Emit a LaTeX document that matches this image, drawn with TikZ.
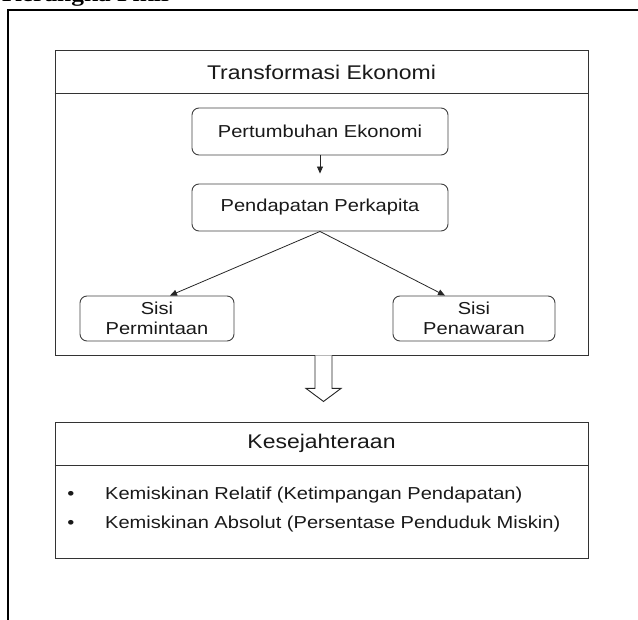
\documentclass[tikz,border=0pt]{standalone}
\usepackage{fontspec}
\setmainfont{Liberation Sans}[FakeStretch=1.16]
\newfontfamily\topfont{Liberation Serif}[FakeStretch=1.16]
\usetikzlibrary{arrows.meta,calc}
\begin{document}
\begin{tikzpicture}[x=1pt,y=-1pt,
  frameline/.style={line width=1.5pt,black},
  bigbox/.style={draw=black!80,line width=0.9pt,minimum width=533pt,inner sep=0pt},
  rbox/.style={draw=black!75,line width=0.9pt,rounded corners=7pt,align=center,inner sep=0pt,
    font=\fontsize{17.3}{19.5}\selectfont,text=black!90},
  titletext/.style={font=\fontsize{19.8}{22}\selectfont,text=black!90,inner sep=0pt},
  bodytext/.style={font=\fontsize{17.3}{19.5}\selectfont,text=black!90,inner sep=0pt},
  conn/.style={draw=black!85,line width=0.8pt,-{Triangle[length=7pt,width=6pt]}}
]
\useasboundingbox (0,0) rectangle (638,620);
% page frame
\draw[frameline] (8,625) -- (8,10) -- (645,10);
\node[anchor=base west,inner sep=0pt,font=\topfont\bfseries\fontsize{21.9}{24}\selectfont] (kp) at (2,1.5) {Kerangka Pikir};

% Transformasi Ekonomi
\node[bigbox,minimum height=305pt] (te) at (321.5,202.5) {};
\node[titletext] (tet) at (321.5,72) {Transformasi Ekonomi};
\draw[draw=black!80,line width=0.9pt] (te.west |- 0,93) coordinate (tel) -- (te.east |- 0,93) coordinate (ter);

\node[rbox,minimum width=256pt,minimum height=47pt] (pe) at (320,131.5) {Pertumbuhan Ekonomi};
\node[rbox,minimum width=256pt,minimum height=47pt] (pp) at (320,207.5) {Pendapatan Perkapita};
\node[rbox,minimum width=154pt,minimum height=45pt] (sp) at (157,318.5) {Sisi\\Permintaan};
\node[rbox,minimum width=162pt,minimum height=45pt] (sw) at (474,318.5) {Sisi\\Penawaran};

\draw[conn,shorten >=10pt] (pe.south) -- (pp.north);
\draw[conn] (pp.south) -- ([xshift=13pt]sp.north);
\draw[conn] (pp.south) -- ([xshift=-29pt]sw.north);

% Kesejahteraan
\node[bigbox,minimum height=136pt] (ks) at (321.5,490) {};
\node[titletext] (kst) at (321.5,443) {Kesejahteraan};
\draw[draw=black!80,line width=0.9pt] (ks.west |- 0,465) coordinate (ksl) -- (ks.east |- 0,465) coordinate (ksr);

% block arrow
\draw[draw=black!85,line width=0.9pt,fill=white]
  ($(te.south)+(-6.5,0)$) -- ++(0,33) -- ++(-9,0) -- ($(te.south)+(2,46)$) coordinate (bat)
  -- ($(te.south)+(19.5,33)$) -- ++(-9,0) -- ($(te.south)+(10.5,0)$);

\node[bodytext] (b1) at (71,495) {•};
\node[bodytext] (b2) at (71,524) {•};
\node[bodytext,anchor=west] (l1) at (105,495) {Kemiskinan Relatif (Ketimpangan Pendapatan)};
\node[bodytext,anchor=west] (l2) at (105,524) {Kemiskinan Absolut (Persentase Penduduk Miskin)};
\end{tikzpicture}
\end{document}
